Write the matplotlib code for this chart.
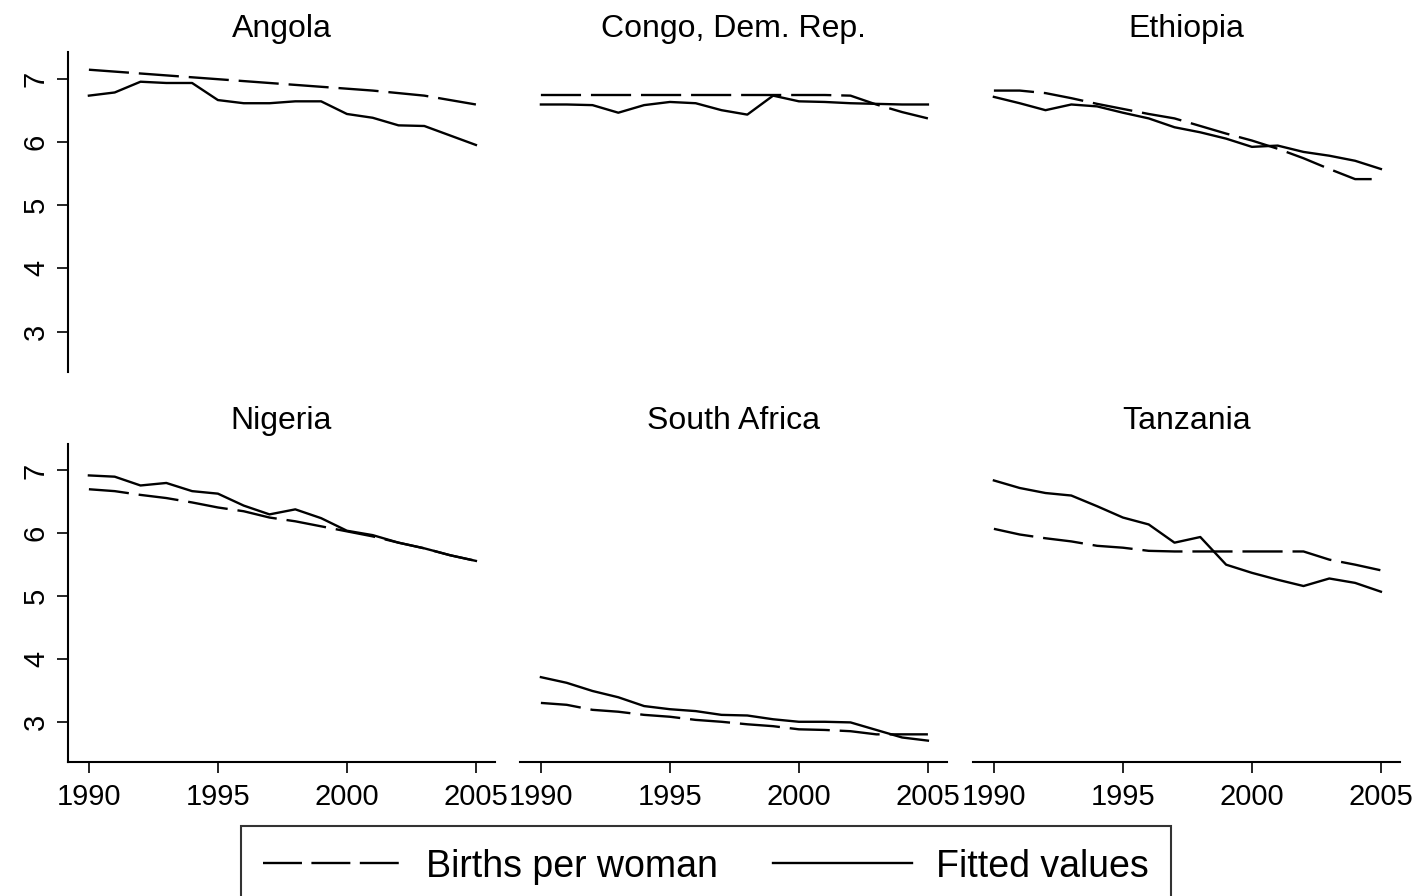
import numpy as np
import matplotlib
matplotlib.use("Agg")
from matplotlib import pyplot as plt
from matplotlib.lines import Line2D

plt.rcParams["font.family"] = ["Liberation Sans", "DejaVu Sans"]

years = list(range(1990, 2006))

# births per woman (dashed) and fitted values (solid), one pair per country
angola_births = [7.14, 7.11, 7.08, 7.05, 7.02, 6.99, 6.96, 6.93, 6.90, 6.87, 6.84, 6.81, 6.77, 6.73, 6.66, 6.59]
angola_fitted = [6.73, 6.78, 6.95, 6.93, 6.93, 6.66, 6.61, 6.61, 6.64, 6.64, 6.44, 6.38, 6.26, 6.25, 6.10, 5.95]

congo_births = [6.74, 6.74, 6.74, 6.74, 6.74, 6.74, 6.74, 6.74, 6.74, 6.74, 6.74, 6.74, 6.73, 6.59, 6.47, 6.37]
congo_fitted = [6.59, 6.59, 6.58, 6.46, 6.58, 6.63, 6.61, 6.50, 6.43, 6.73, 6.64, 6.63, 6.61, 6.60, 6.59, 6.59]

ethiopia_births = [6.81, 6.81, 6.77, 6.69, 6.60, 6.52, 6.44, 6.37, 6.25, 6.13, 6.02, 5.89, 5.74, 5.57, 5.41, 5.41]
ethiopia_fitted = [6.71, 6.61, 6.50, 6.59, 6.56, 6.46, 6.37, 6.23, 6.15, 6.05, 5.92, 5.94, 5.84, 5.78, 5.70, 5.57]

nigeria_births = [6.70, 6.67, 6.61, 6.56, 6.49, 6.41, 6.35, 6.25, 6.19, 6.11, 6.03, 5.95, 5.85, 5.76, 5.65, 5.56]
nigeria_fitted = [6.92, 6.90, 6.76, 6.80, 6.67, 6.63, 6.44, 6.30, 6.38, 6.24, 6.04, 5.97, 5.85, 5.76, 5.65, 5.56]

safrica_births = [3.30, 3.27, 3.19, 3.16, 3.11, 3.08, 3.03, 3.00, 2.96, 2.93, 2.88, 2.87, 2.85, 2.80, 2.80, 2.80]
safrica_fitted = [3.71, 3.62, 3.49, 3.39, 3.25, 3.20, 3.17, 3.11, 3.10, 3.04, 3.00, 3.00, 2.99, 2.87, 2.75, 2.70]

tanzania_births = [6.07, 5.98, 5.92, 5.87, 5.80, 5.77, 5.72, 5.71, 5.71, 5.71, 5.71, 5.71, 5.71, 5.58, 5.50, 5.41]
tanzania_fitted = [6.84, 6.72, 6.64, 6.60, 6.43, 6.25, 6.14, 5.85, 5.94, 5.50, 5.37, 5.26, 5.16, 5.28, 5.21, 5.07]

countries = ["Angola", "Congo, Dem. Rep.", "Ethiopia", "Nigeria", "South Africa", "Tanzania"]
births = [angola_births, congo_births, ethiopia_births, nigeria_births, safrica_births, tanzania_births]
fitted = [angola_fitted, congo_fitted, ethiopia_fitted, nigeria_fitted, safrica_fitted, tanzania_fitted]

x_ticks = [1990, 1995, 2000, 2005]
y_ticks = [3, 4, 5, 6, 7]

W, H = 1422, 896
fig = plt.figure(figsize=(W / 100, H / 100), dpi=100)

lw = 1.7
dash = (17.0, 4.2)

col_left = [68, 520, 973]
row_top = [52, 444]
row_bottom = [372, 762]
panel_w = 427

for i, name in enumerate(countries):
    r, c = divmod(i, 3)
    left, top, bottom = col_left[c], row_top[r], row_bottom[r]
    ax = fig.add_axes([left / W, 1 - bottom / H, panel_w / W, (bottom - top) / H])
    ax.plot(years, births[i], color="black", lw=lw, dashes=dash)
    ax.plot(years, fitted[i], color="black", lw=lw)
    ax.set_xlim(1989.19, 2005.74)
    ax.set_ylim(2.36, 7.42)
    ax.set_title(name, fontsize=23, pad=11)

    for s in ax.spines.values():
        s.set_visible(False)
        s.set_linewidth(1.5)
    ax.set_xticks(x_ticks)
    ax.set_yticks(y_ticks)
    ax.tick_params(axis="both", length=8, width=1.2, labelsize=21)
    ax.tick_params(axis="x", pad=7)
    ax.tick_params(axis="y", pad=5, labelrotation=90)

    if c == 0:
        ax.spines["left"].set_visible(True)
        for lbl in ax.get_yticklabels():
            lbl.set_va("center")
    else:
        ax.tick_params(axis="y", left=False, labelleft=False)

    if r == 1:
        ax.spines["bottom"].set_visible(True)
    else:
        ax.tick_params(axis="x", bottom=False, labelbottom=False)

handles = [
    Line2D([], [], color="black", lw=lw, dashes=(16.5, 4.0)),
    Line2D([], [], color="black", lw=lw),
]
leg = fig.legend(handles, ["Births per woman", "Fitted values"],
                 loc="upper center", bbox_to_anchor=(706 / W, 1 - 826 / H),
                 ncol=2, fontsize=27, frameon=True, fancybox=False,
                 handlelength=3.7, handletextpad=0.65, columnspacing=1.45,
                 borderpad=0.6, borderaxespad=0)
leg.get_frame().set_edgecolor("black")
leg.get_frame().set_linewidth(1.5)

fig.savefig("out.png", dpi=100)
